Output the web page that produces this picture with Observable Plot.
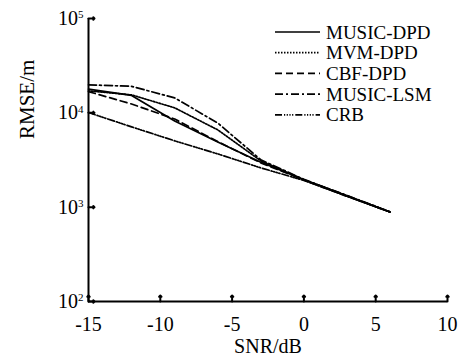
<!DOCTYPE html>
<html>
<head>
<meta charset="utf-8">
<script src="https://cdn.jsdelivr.net/npm/d3@7"></script>
<script src="https://cdn.jsdelivr.net/npm/@observablehq/plot@0.6"></script>
<style>
  html, body { margin: 0; padding: 0; background: #fff; }
  #wrap { position: relative; width: 467px; height: 364px; }
  #wrap svg, #wrap svg text, #wrap svg g { font-family: 'Liberation Serif', 'Times New Roman', serif !important; }
  #legend { position: absolute; left: 270px; top: 20px; }
</style>
</head>
<body>
<div id="wrap"></div>
<script>
// ---- data ----
const snr = [-15, -12, -9, -6, -3, 0, 3, 6];
const musicDPD = [17800, 15300, 8200, 4900, 3000, 1950, 1320, 890];
const mvmDPD   = [17100, 15500, 11300, 6600, 3100, 1960, 1320, 890];
const cbfDPD   = [16800, 12400, 8600, 4950, 2950, 1940, 1310, 890];
const musicLSM = [19800, 19100, 14400, 7800, 3180, 1970, 1330, 895];
const crb      = [10070, 7100, 5050, 3670, 2610, 1920, 1300, 885];
const seriesNames = ["MUSIC-DPD", "MVM-DPD", "CBF-DPD", "MUSIC-LSM", "CRB"];
const seriesValues = [musicDPD, mvmDPD, cbfDPD, musicLSM, crb];
const xTicks = [-15, -10, -5, 0, 5, 10];
const yTicks = [100, 1000, 10000, 100000];
const xLabel = "SNR/dB";
const yLabel = "RMSE/m";

// ---- styles ----
const serif = "Liberation Serif";
const dashes = {
  "MUSIC-DPD": null,
  "MVM-DPD": "1.5,1.5",
  "CBF-DPD": "7,4",
  "MUSIC-LSM": "8,3,2,3",
  "CRB": "7,2,1.2,1.5,1.2,1.5,1.2,1.5,1.2,2"
};

const rows = [];
seriesNames.forEach((name, i) => {
  snr.forEach((x, j) => rows.push({series: name, snr: x, rmse: seriesValues[i][j]}));
});

const W = 467, H = 364, mL = 88, mR = 20, mT = 18, mB = 63, tick = 6;

const chart = Plot.plot({
  width: W,
  height: H,
  marginLeft: mL,
  marginRight: mR,
  marginTop: mT,
  marginBottom: mB,
  style: {fontSize: "20px", fontFamily: serif, color: "#000", background: "#fff"},
  x: {domain: [xTicks[0], xTicks[xTicks.length - 1]]},
  y: {type: "log", domain: [yTicks[0], yTicks[yTicks.length - 1]]},
  marks: [
    ...seriesNames.map(name => Plot.line(rows.filter(d => d.series === name), {
      x: "snr", y: "rmse", stroke: "#000", strokeWidth: 1.7,
      strokeDasharray: dashes[name]
    })),
    Plot.axisX({ticks: xTicks, tickSize: 0, tickPadding: 15, tickFormat: d => String(d), label: null, fontSize: 20, fontFamily: serif}),
    Plot.axisY({ticks: yTicks, tickSize: 0, tickPadding: 5, tickFormat: d => String(Math.round(Math.log10(d))), label: null, fontSize: 20, fontFamily: serif}),
    Plot.vector(xTicks, {x: d => d, y: () => yTicks[0], length: tick, rotate: 0, anchor: "start", stroke: "#000", strokeWidth: 2}),
    Plot.vector(yTicks, {x: () => xTicks[0], y: d => d, length: tick, rotate: 90, anchor: "start", stroke: "#000", strokeWidth: 2}),
    Plot.ruleX([xTicks[0]], {strokeWidth: 2}),
    Plot.ruleY([yTicks[0]], {strokeWidth: 2}),
    Plot.text([xLabel], {text: d => d, frameAnchor: "bottom", dy: 51, fontSize: 20, fontFamily: serif}),
    Plot.text([yLabel], {text: d => d, frameAnchor: "left", dx: -61, dy: -21, rotate: -90, fontSize: 21, fontFamily: serif})
  ]
});

// superscript exponents on y tick labels
d3.select(chart).selectAll('g[aria-label="y-axis tick label"] text').each(function() {
  const t = d3.select(this);
  const e = t.text();
  if (!e) return;
  t.text("10");
  t.append("tspan").attr("dy", "-0.6em").attr("font-size", "11px").text(e);
});

const wrap = document.getElementById("wrap");
wrap.appendChild(chart);

// legend
const lg = d3.select(wrap).append("svg").attr("id", "legend")
  .attr("width", 197).attr("height", 110)
  .style("font-size", "19px");
seriesNames.forEach((name, i) => {
  const y = 12 + i * 20.7;
  lg.append("line").attr("x1", 5).attr("x2", 50).attr("y1", y).attr("y2", y)
    .attr("stroke", "#000").attr("stroke-width", 1.7)
    .attr("stroke-dasharray", dashes[name]);
  lg.append("text").attr("x", 56).attr("y", y).attr("dy", "0.35em").text(name);
});
</script>
</body>
</html>
